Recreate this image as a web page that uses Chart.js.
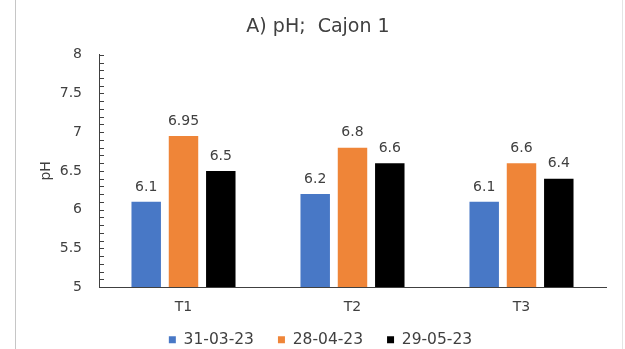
<!DOCTYPE html>
<html>
<head>
<meta charset="utf-8">
<script src="https://cdn.jsdelivr.net/npm/chart.js@4.4.0/dist/chart.umd.min.js"></script>
<style>
  html, body { margin: 0; padding: 0; background: #fff; overflow: hidden; }
  #wrap { position: relative; width: 625px; height: 349px; }
  #frame {
    position: absolute; left: 15px; top: 0; width: 608px; height: 349px;
    border-left: 1px solid #c6c6c6; border-right: 1px solid #e4e4e4;
    box-sizing: border-box; pointer-events: none;
  }
</style>
</head>
<body>
<div id="wrap">
  <canvas id="c" width="625" height="349"></canvas>
  <div id="frame"></div>
</div>
<script>
// pH per treatment on three sampling dates
const categories = ['T1', 'T2', 'T3'];
const seriesNames = ['31-03-23', '28-04-23', '29-05-23'];
const phMarch = [6.1, 6.2, 6.1];
const phApril = [6.95, 6.8, 6.6];
const phMay = [6.5, 6.6, 6.4];
const yTickValues = [5, 5.5, 6, 6.5, 7, 7.5, 8];
const chartTitle = 'A) pH;  Cajon 1';
const yAxisTitle = 'pH';

const seriesColors = ['#4878C6', '#EF8538', '#000000'];
const textColor = '#404040';
const axisColor = '#404040';

Chart.defaults.font.family = "'DejaVu Sans', Verdana, sans-serif";
Chart.defaults.color = textColor;

// Short tick marks pointing into the plot, every 0.1 pH
const innerTicks = {
  id: 'innerTicks',
  afterDraw(chart) {
    const y = chart.scales.y;
    const ctx = chart.ctx;
    const x0 = chart.chartArea.left;
    ctx.save();
    ctx.strokeStyle = axisColor;
    ctx.lineWidth = 1;
    const steps = Math.round((y.max - y.min) * 10);
    for (let i = 0; i <= steps; i++) {
      const py = Math.round(y.getPixelForValue(y.min + i / 10)) + 0.5;
      ctx.beginPath();
      ctx.moveTo(x0, py);
      ctx.lineTo(x0 + 5, py);
      ctx.stroke();
    }
    ctx.restore();
  }
};

// Value written above each bar
const valueLabels = {
  id: 'valueLabels',
  afterDatasetsDraw(chart) {
    const ctx = chart.ctx;
    ctx.save();
    ctx.font = "14px 'DejaVu Sans'";
    ctx.fillStyle = textColor;
    ctx.textAlign = 'center';
    ctx.textBaseline = 'middle';
    chart.data.datasets.forEach((ds, di) => {
      chart.getDatasetMeta(di).data.forEach((bar, i) => {
        ctx.fillText(String(ds.data[i]), bar.x, bar.y - 15);
      });
    });
    ctx.restore();
  }
};

// Pull the legend row up closer to the category labels
const legendNudge = {
  id: 'legendNudge',
  afterLayout(chart) {
    const lg = chart.legend;
    if (!lg) return;
    lg.top -= 8; lg.bottom -= 8;
    lg.left += 2.5; lg.right += 2.5;
  }
};

new Chart(document.getElementById('c'), {
  type: 'bar',
  data: {
    labels: categories,
    datasets: [phMarch, phApril, phMay].map((values, i) => ({
      label: seriesNames[i],
      data: values,
      backgroundColor: seriesColors[i],
      borderWidth: 0,
      categoryPercentage: 0.662,
      barPercentage: 0.79
    }))
  },
  options: {
    responsive: false,
    animation: false,
    events: [],
    layout: { padding: { left: 30, right: 19, top: 0, bottom: -16.5 } },
    plugins: {
      title: {
        display: true,
        text: chartTitle,
        color: textColor,
        font: { size: 19, weight: 'normal' },
        padding: { top: 16, bottom: 16 }
      },
      legend: {
        position: 'bottom',
        labels: {
          boxWidth: 7,
          boxHeight: 7,
          padding: 24,
          color: textColor,
          font: { size: 15.5 }
        }
      },
      tooltip: { enabled: false }
    },
    scales: {
      x: {
        grid: { display: false, drawTicks: false },
        border: { display: true, color: axisColor, width: 1 },
        ticks: { color: textColor, font: { size: 14 }, padding: 12 },
        afterFit(scale) { scale.height = 29; }
      },
      y: {
        min: 5,
        max: 8,
        grid: { display: false, drawTicks: false },
        border: { display: true, color: axisColor, width: 1 },
        afterBuildTicks(scale) { scale.ticks = yTickValues.map(v => ({ value: v })); },
        ticks: {
          color: textColor,
          font: { size: 14 },
          padding: 17,
          callback: (v) => String(v)
        },
        title: {
          display: true,
          text: yAxisTitle,
          color: textColor,
          font: { size: 14 },
          padding: { top: 7.6, bottom: 0 }
        },
        afterFit(scale) { scale.width = 69; }
      }
    }
  },
  plugins: [innerTicks, valueLabels, legendNudge]
});
</script>
</body>
</html>
